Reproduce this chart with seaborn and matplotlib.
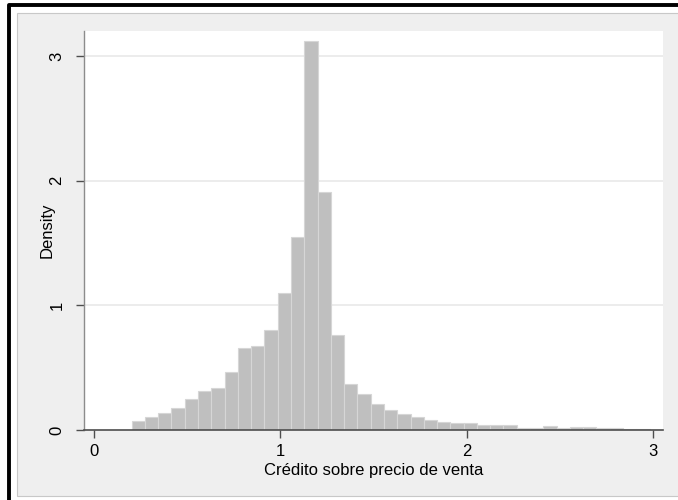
import numpy as np
import pandas as pd
import seaborn as sns
import matplotlib.pyplot as plt
from matplotlib.patches import Rectangle
from matplotlib.lines import Line2D

# ---- data ----
bin_start = 0.203
bin_width = 0.0712
density = [0.072, 0.107, 0.134, 0.174, 0.249, 0.310, 0.337, 0.463, 0.655, 0.675,
           0.800, 1.100, 1.550, 3.120, 1.910, 0.760, 0.366, 0.286, 0.206, 0.158,
           0.131, 0.104, 0.078, 0.064, 0.060, 0.054, 0.038, 0.038, 0.038, 0.018,
           0.016, 0.034, 0.016, 0.022, 0.022, 0.016, 0.016, 0.008, 0.008]
x_ticks = [0, 1, 2, 3]
y_ticks = [0, 1, 2, 3]
x_label = "Crédito sobre precio de venta"
y_label = "Density"

edges = bin_start + bin_width * np.arange(len(density) + 1)
centers = (edges[:-1] + edges[1:]) / 2
df = pd.DataFrame({"x": centers, "w": density})

sns.set_theme(style="white")
plt.rcParams["font.family"] = ["Liberation Sans", "DejaVu Sans"]

W, H = 678, 500
fig = plt.figure(figsize=(W / 100, H / 100), dpi=100, facecolor="white")

# graph region (light gray panel)
fig.add_artist(Rectangle((17 / W, 1 - 496 / H), 1.2, (496 - 13) / H,
                         transform=fig.transFigure, facecolor="#efefef",
                         edgecolor="#c8c8c8", linewidth=0.8, zorder=0))
# outer black frame (left and top visible)
fig.add_artist(Line2D([9 / W, 9 / W, 1.01], [-0.01, 1 - 5.3 / H, 1 - 5.3 / H],
                      transform=fig.transFigure, color="black", linewidth=2.8,
                      solid_capstyle="projecting", zorder=1))

ax = fig.add_axes([84 / W, 70 / H, 579 / W, 399 / H])
ax.set_facecolor("white")

sns.histplot(data=df, x="x", weights="w", binwidth=bin_width,
             binrange=(float(edges[0]), float(edges[-1])), stat="count",
             color="#bfbfbf", edgecolor="#d6d6d6", linewidth=0.8, alpha=1,
             ax=ax, zorder=2)

ax.set_xlim(-0.0525, 3.052)
ax.set_ylim(0, 3.2)
ax.set_xticks(x_ticks)
ax.set_yticks(y_ticks)
ax.set_xticklabels([str(t) for t in x_ticks])
ax.set_yticklabels([str(t) for t in y_ticks], rotation=90, va="center")

for yv in y_ticks[1:]:
    ax.axhline(yv, color="#ebebeb", linewidth=1.3, zorder=1)

for s in ["top", "right"]:
    ax.spines[s].set_visible(False)
ax.spines["left"].set_color("#8c8c8c")
ax.spines["left"].set_linewidth(1.0)
ax.spines["bottom"].set_color("#4d4d4d")
ax.spines["bottom"].set_linewidth(1.2)

ax.tick_params(axis="x", bottom=True, direction="out", length=6, width=1,
               color="#4d4d4d", pad=4, labelsize=12, labelcolor="black")
ax.tick_params(axis="y", left=True, direction="out", length=6, width=1,
               color="#4d4d4d", pad=8, labelsize=12, labelcolor="black")

ax.set_xlabel(x_label, fontsize=12, color="black", labelpad=3)
ax.set_ylabel(y_label, fontsize=12, color="black", labelpad=-4)

fig.savefig("out.png", dpi=100, facecolor="white")
